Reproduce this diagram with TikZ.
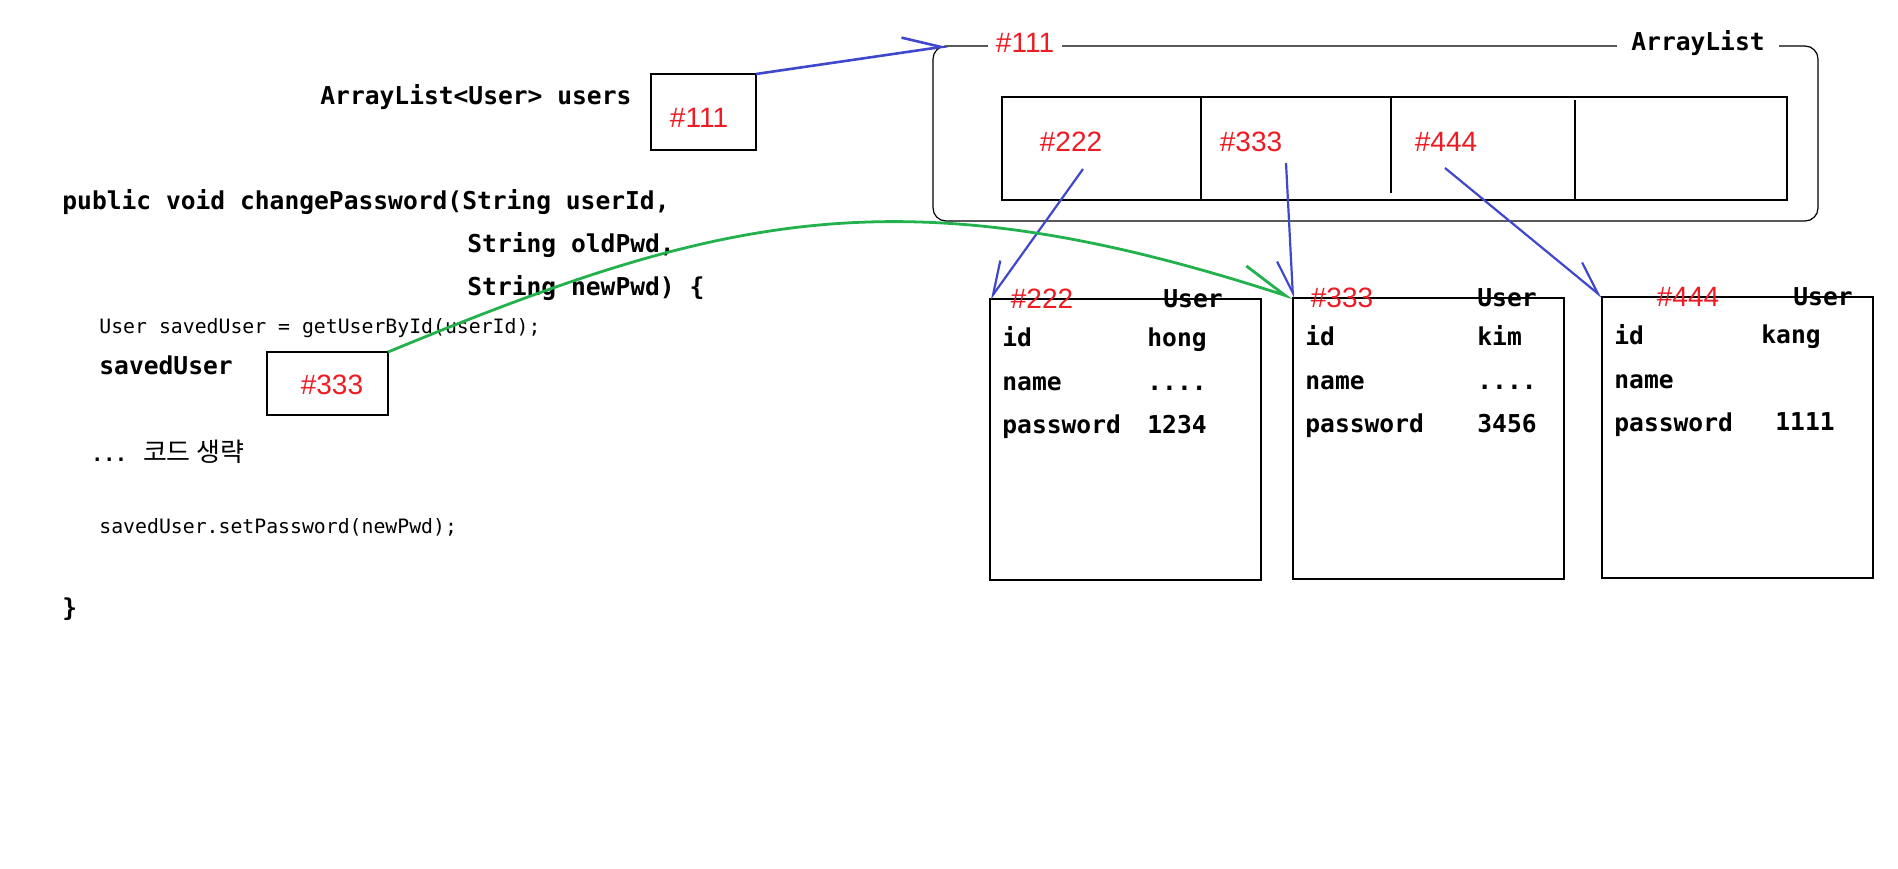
\documentclass[tikz,border=0pt]{standalone}
\usepackage{fontspec}
\setmainfont{Liberation Sans}
\newfontfamily\codefont{DejaVu Sans Mono}
\newfontfamily\krfont{Noto Sans CJK KR}
\usetikzlibrary{arrows.meta}
\definecolor{pred}{RGB}{237,28,36}
\definecolor{pblue}{RGB}{63,72,204}
\definecolor{pgreen}{RGB}{34,177,76}
\newcommand{\hiddenname}{....}
\tikzset{
	code/.style={font=\codefont\bfseries\fontsize{12.3}{14}\selectfont, inner sep=0pt},
	smallcode/.style={font=\codefont\fontsize{9.9}{12}\selectfont, inner sep=0pt},
	addr/.style={font=\fontsize{14}{16}\selectfont, text=pred, inner sep=0pt},
	cellbox/.style={draw, line width=.6pt, inner sep=0pt, outer sep=0pt},
	ref/.style={pblue, line width=1.1pt, -{Straight Barb[left,length=16pt,width=14pt]}},
	refr/.style={pblue, line width=1.1pt, -{Straight Barb[right,length=16pt,width=14pt]}}
}
\newcommand{\userbox}[5]
{\node[cellbox, minimum width=135.5pt, minimum height=140.5pt, anchor=north west] (#1) at (#2) {};
\node[addr] (#1addr) at ([shift={(#4,0)}]#1.north west) {#3};
\node[code] (#1cls) at ([shift={(#5,0)}]#1.north west) {User};
\foreach \row/\lab in {47/id,91/name,134/password}
		{\node[code, anchor=base west] (#1\lab) at ([shift={(12,\row)}]#1.north west) {\lab};
			};
}

\begin{document}
\begin{tikzpicture}[x=.5pt,y=-.5pt]
		\useasboundingbox (0,0) rectangle (1898,868);
		% code on the left
		\node[code, anchor=base west] (users) at (320,104) {ArrayList<User> users};
		\node[cellbox, minimum width=52.5pt, minimum height=38pt, anchor=north west] (ubox) at (651,74) {};
		\node[addr] (uaddr) at (699,118) {\#111};
		\node[code, anchor=base west] (sig1) at (62,209) {public void changePassword(String userId,};
		\node[code, anchor=base west] (sig2) at (467,252) {String oldPwd,};
		\node[code, anchor=base west] (sig3) at (467,295) {String newPwd) \{};
		\node[smallcode, anchor=base west] (getline) at (99,333) {User savedUser = getUserById(userId);};
		\node[code, anchor=base west] (svname) at (99,374) {savedUser};
		\node[cellbox, minimum width=60.5pt, minimum height=31.5pt, anchor=north west] (svbox) at (267,352) {};
		\node[addr] (svaddr) at (332,385) {\#333};
		\node[smallcode, font=\codefont\bfseries\fontsize{9.9}{12}\selectfont, anchor=base west] (skip) at (91,461) {... {\krfont\mdseries\fontsize{13}{15}\selectfont 코드 생략}};
		\node[smallcode, anchor=base west] (setline) at (99,533) {savedUser.setPassword(newPwd);};
		\node[code, anchor=base west] (close) at (62,616) {\}};
		% the ArrayList object
		\node[cellbox, rounded corners=6.5pt, minimum width=442.5pt, minimum height=87.5pt, anchor=north west] (alist) at (933,46) {};
		\coordinate (alin) at ([shift={(15,0)}]alist.north west);
		\node[addr, fill=white, inner xsep=4pt] (alistaddr) at (1025,43) {\#111};
		\node[code, fill=white, inner xsep=7pt] (alistname) at (1698,43) {ArrayList};
		\node[cellbox, minimum width=392.5pt, minimum height=51.5pt, anchor=north west] (slots) at (1002,97) {};
		\draw[line width=.6pt] (1201,97) -- (1201,200);
		\draw[line width=.6pt] (1391,97) -- (1391,193);
		\draw[line width=.6pt] (1575,100) -- (1575,200);
		\node[addr] (c222) at (1071,142) {\#222};
		\node[addr] (c333) at (1251,142) {\#333};
		\node[addr] (c444) at (1446,142) {\#444};
		% the User objects
		\userbox{u1}{990,299}{\#222}{52}{203}
		\userbox{u2}{1293,298}{\#333}{49}{214}
		\userbox{u3}{1602,297}{\#444}{86}{221}
		\foreach \b/\v/\vx/\vy in {u1/hong/157/47,u1/\hiddenname/157/91,u1/1234/157/134,
				u2/kim/184/47,u2/\hiddenname/184/91,u2/3456/184/134,
				u3/kang/159/46,u3/1111/173/133}
		{\node[code, anchor=base west] (\b v\vy) at ([shift={(\vx,\vy)}]\b.north west) {\v};
			};
		% references
		\draw[ref, line width=1.3pt, -{Straight Barb[left,length=19pt,width=15pt]}] (ubox.north east) -- (alin);
		\draw[refr] ([shift={(12,27)}]c222.center) -- (u1.north west);
		\draw[refr] ([shift={(35,21)}]c333.center) -- (u2.north west);
		\draw[ref] ([shift={(-1,26)}]c444.center) -- (u3.north west);
		\draw[pgreen, line width=1.4pt, -{Straight Barb[left,length=23pt,width=16pt]}] (svbox.north east) .. controls (720,215) and (900,170) .. (u2.north west);
\end{tikzpicture}
\end{document}
